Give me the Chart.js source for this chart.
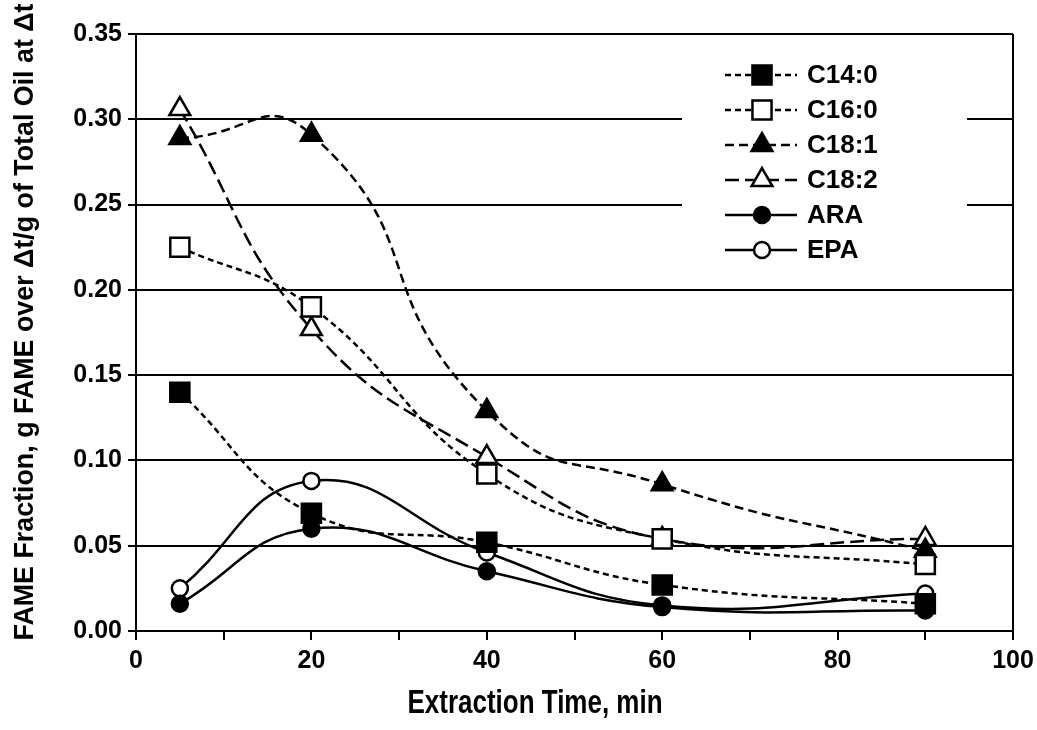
<!DOCTYPE html>
<html>
<head>
<meta charset="utf-8">
<script src="https://cdn.jsdelivr.net/npm/chart.js@4.4.1/dist/chart.umd.min.js"></script>
<style>
  html, body { margin: 0; padding: 0; background: #fff; }
  #wrap { width: 1037px; height: 730px; }
</style>
</head>
<body>
<div id="wrap"><canvas id="c"></canvas></div>
<script>
// datos
const times = [5, 20, 40, 60, 90];
const c140 = [0.140, 0.069, 0.052, 0.027, 0.016];
const c160 = [0.225, 0.190, 0.092, 0.054, 0.039];
const c181 = [0.289, 0.291, 0.129, 0.086, 0.047];
const c182 = [0.306, 0.177, 0.102, 0.054, 0.054];
const ara = [0.016, 0.060, 0.035, 0.014, 0.012];
const epa = [0.025, 0.088, 0.046, 0.015, 0.022];
const seriesNames = ["C14:0", "C16:0", "C18:1", "C18:2", "ARA", "EPA"];
const xTicks = [0, 20, 40, 60, 80, 100];
const xTitle = "Extraction Time, min";
const yTitle = "FAME Fraction, g FAME over \u0394t/g of Total Oil at \u0394t";

const sans = '"Liberation Sans", Arial, sans-serif';

const pts = arr => arr.map((v, i) => ({ x: times[i], y: v }));

const mk = (label, data, style, r, fill, dash, tension) => ({
  label,
  data: pts(data),
  borderColor: '#000',
  borderWidth: 2.5,
  borderDash: dash,
  tension,
  pointStyle: style,
  pointRadius: r,
  pointHoverRadius: r,
  pointBackgroundColor: fill,
  pointBorderColor: '#000',
  pointBorderWidth: 2.5
});

const datasets = [
  mk(seriesNames[0], c140, 'rect', 13.5, '#000', [6, 4], 0.45),
  mk(seriesNames[1], c160, 'rect', 13.5, '#fff', [6, 4], 0.45),
  mk(seriesNames[2], c181, 'triangle', 12, '#000', [9, 5], 0.55),
  mk(seriesNames[3], c182, 'triangle', 12, '#fff', [14, 6], 0.45),
  mk(seriesNames[4], ara, 'circle', 8, '#000', [], 0.45),
  mk(seriesNames[5], epa, 'circle', 8, '#fff', [], 0.45)
];

function drawMarker(ctx, style, r, x, y) {
  if (style === 'rect') {
    const s = Math.SQRT1_2 * r;
    ctx.rect(x - s, y - s, 2 * s, 2 * s);
  } else if (style === 'triangle') {
    ctx.moveTo(x, y - r);
    ctx.lineTo(x + r * Math.sin(Math.PI / 3), y + r / 2);
    ctx.lineTo(x - r * Math.sin(Math.PI / 3), y + r / 2);
    ctx.closePath();
  } else {
    ctx.arc(x, y, r, 0, Math.PI * 2);
  }
}

// texto estrecho (fuente condensada simulada)
function narrowText(ctx, text, font, x, y, w, rot) {
  ctx.save();
  ctx.translate(x, y);
  if (rot) ctx.rotate(-Math.PI / 2);
  ctx.font = font;
  const m = ctx.measureText(text).width;
  ctx.scale(w / m, 1);
  ctx.fillStyle = '#000';
  ctx.textAlign = 'center';
  ctx.textBaseline = 'alphabetic';
  ctx.fillText(text, 0, 0);
  ctx.restore();
}

// marco derecho, titulos y leyenda
const framePlugin = {
  id: 'frame',
  afterDraw(chart) {
    const { ctx, chartArea: a } = chart;
    ctx.save();
    ctx.strokeStyle = '#000';
    ctx.lineWidth = 2;
    ctx.beginPath();
    ctx.moveTo(a.right, a.top);
    ctx.lineTo(a.right, a.bottom);
    ctx.stroke();

    narrowText(ctx, xTitle, 'bold 33px ' + sans, 535, 713, 255, false);
    narrowText(ctx, yTitle, 'bold 28px ' + sans, 33, 322, 637, true);

    // caja blanca de la leyenda
    ctx.fillStyle = '#fff';
    ctx.fillRect(682, 46, 285, 228);

    chart.data.datasets.forEach((ds, i) => {
      const y = 75 + i * 35;
      ctx.setLineDash(ds.borderDash || []);
      ctx.lineWidth = 2.5;
      ctx.strokeStyle = '#000';
      ctx.beginPath();
      ctx.moveTo(725, y);
      ctx.lineTo(797, y);
      ctx.stroke();
      ctx.setLineDash([]);
      ctx.fillStyle = ds.pointBackgroundColor;
      ctx.beginPath();
      drawMarker(ctx, ds.pointStyle, ds.pointRadius, 762, y);
      ctx.fill();
      ctx.stroke();
      ctx.fillStyle = '#000';
      ctx.font = 'bold 26px ' + sans;
      ctx.textBaseline = 'middle';
      ctx.textAlign = 'left';
      ctx.fillText(ds.label, 807, y + 1);
    });
    ctx.restore();
  }
};

new Chart(document.getElementById('c'), {
  type: 'line',
  data: { datasets },
  options: {
    responsive: true,
    maintainAspectRatio: false,
    animation: false,
    layout: { padding: { left: 0, right: 24, top: 34, bottom: 0 } },
    plugins: {
      legend: { display: false },
      tooltip: { enabled: false }
    },
    scales: {
      x: {
        type: 'linear',
        min: 0,
        max: 100,
        afterFit: s => { s.height = 99; s.paddingRight = 0; s.paddingLeft = 0; },
        afterBuildTicks: s => { s.ticks = [0,10,20,30,40,50,60,70,80,90,100].map(v => ({ value: v })); },
        ticks: {
          callback: v => xTicks.includes(v) ? v : '',
          color: '#000',
          font: { family: sans, size: 25, weight: 'bold' },
          padding: 6,
          maxRotation: 0,
          autoSkip: false
        },
        grid: { drawOnChartArea: false, color: '#000', lineWidth: 2, tickLength: 9 },
        border: { display: true, color: '#000', width: 2 }
      },
      y: {
        min: 0,
        max: 0.35,
        afterFit: s => { s.width = 136; },
        ticks: {
          stepSize: 0.05,
          callback: v => v.toFixed(2),
          color: '#000',
          font: { family: sans, size: 25, weight: 'bold' },
          padding: 6
        },
        grid: { color: '#000', lineWidth: 2, tickLength: 8 },
        border: { display: true, color: '#000', width: 2 }
      }
    }
  },
  plugins: [framePlugin]
});
</script>
</body>
</html>
